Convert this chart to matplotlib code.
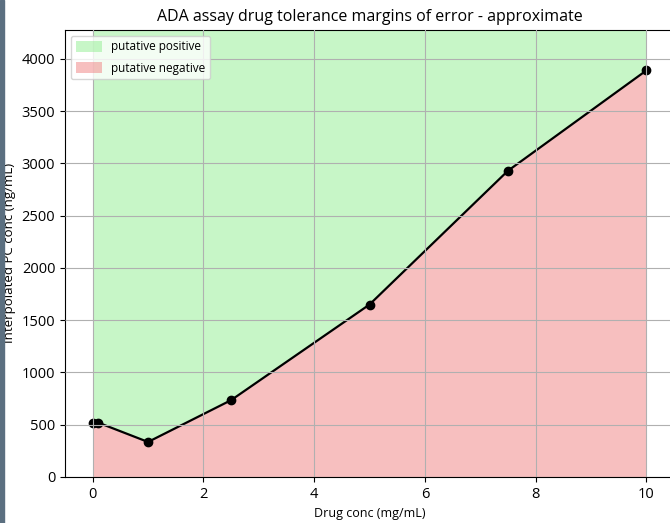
import numpy as np
import matplotlib
matplotlib.use("Agg")
import matplotlib.pyplot as plt
from matplotlib.patches import Rectangle

plt.rcParams['font.family'] = ['Open Sans', 'DejaVu Sans']

# drug concentration (mg/mL) vs interpolated positive-control conc (ng/mL)
drug_conc = [0, 0.1, 1, 2.5, 5, 7.5, 10]
pc_conc = [520, 520, 335, 735, 1650, 2930, 3890]

fig = plt.figure(figsize=(6.7, 5.23), dpi=100)
ax = fig.add_axes([0.097, 0.088, 0.909, 0.855])

ymax = max(pc_conc) * 1.1

ax.fill_between(drug_conc, pc_conc, ymax, color='lightgreen', alpha=0.5,
                label='putative positive', linewidth=0)
ax.fill_between(drug_conc, 0, pc_conc, color='lightcoral', alpha=0.5,
                label='putative negative', linewidth=0)
ax.plot(drug_conc, pc_conc, color='black', linewidth=1.6,
        marker='o', markersize=6)

ax.set_ylim(0, ymax)
ax.set_xlim(-0.5, 10.5)
ax.grid(True, color='#b0b0b0', linewidth=0.8)
ax.set_axisbelow(False)

ax.set_title('ADA assay drug tolerance margins of error - approximate', fontsize=11.5)
ax.set_xlabel('Drug conc (mg/mL)', fontsize=9)
ax.set_ylabel('Interpolated PC conc (ng/mL)', fontsize=9.5)
ax.tick_params(labelsize=10.5)
ax.legend(loc='upper left', fontsize=8.5, framealpha=0.8, labelspacing=0.7,
          handlelength=2.2, handleheight=1.1)

# dark strip down the left edge
fig.patches.append(Rectangle((0, 0), 4 / 670, 1, transform=fig.transFigure,
                             color='#5b6f80', zorder=10))

fig.savefig('out.png', dpi=100)
